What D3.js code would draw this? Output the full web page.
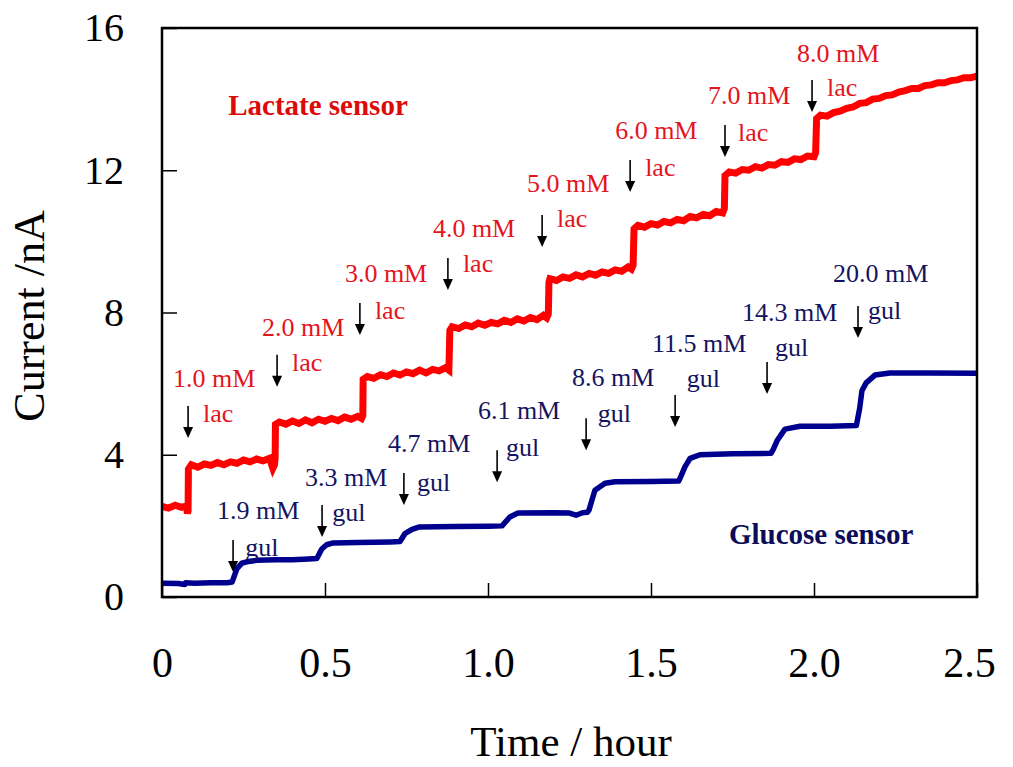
<!DOCTYPE html>
<html>
<head>
<meta charset="utf-8">
<script src="https://cdn.jsdelivr.net/npm/d3@7"></script>
<style>
  html, body { margin: 0; padding: 0; background: #fff; }
  svg { display: block; font-family: "Liberation Serif", "Times New Roman", serif; }
</style>
</head>
<body>
<svg id="chart" width="1013" height="767"></svg>
<script>
// Amperometric response of the lactate and glucose sensors (time in hours, current in nA)
const lactateTrace = [
  [0,2.55],[0.02,2.5],[0.04,2.58],[0.06,2.52],[0.075,2.56],[0.078,2.35],[0.080,2.42],
  [0.081,3.6],[0.09,3.72],[0.11,3.65],[0.13,3.74],[0.15,3.7],[0.17,3.78],[0.19,3.72],[0.21,3.8],
  [0.23,3.76],[0.25,3.85],[0.27,3.8],[0.29,3.88],[0.31,3.83],[0.33,3.9],[0.34,3.62],[0.345,3.72],[0.347,3.9],
  [0.348,4.85],[0.36,4.92],[0.38,4.86],[0.40,4.95],[0.42,4.88],[0.44,4.98],[0.46,4.9],[0.48,5.0],
  [0.50,4.94],[0.52,5.02],[0.54,4.96],[0.56,5.06],[0.58,5.0],[0.60,5.08],[0.612,5.02],[0.616,5.1],
  [0.617,6.12],[0.63,6.2],[0.65,6.15],[0.67,6.25],[0.69,6.2],[0.71,6.3],[0.73,6.24],[0.75,6.33],
  [0.77,6.28],[0.79,6.38],[0.81,6.3],[0.83,6.4],[0.85,6.36],[0.87,6.45],[0.88,6.38],
  [0.883,7.5],[0.89,7.6],[0.91,7.55],[0.93,7.65],[0.95,7.6],[0.97,7.7],[0.99,7.64],[1.01,7.72],
  [1.03,7.68],[1.05,7.78],[1.07,7.72],[1.09,7.82],[1.11,7.76],[1.13,7.86],[1.15,7.8],[1.17,7.92],[1.18,7.85],[1.185,7.95],
  [1.187,8.85],[1.19,8.95],[1.21,8.9],[1.23,9.0],[1.25,8.96],[1.27,9.06],[1.29,9.0],[1.31,9.1],
  [1.33,9.05],[1.35,9.14],[1.37,9.1],[1.39,9.2],[1.41,9.16],[1.43,9.28],[1.44,9.22],[1.445,9.32],
  [1.448,10.35],[1.46,10.45],[1.48,10.4],[1.50,10.5],[1.52,10.46],[1.54,10.56],[1.56,10.52],[1.58,10.62],
  [1.60,10.58],[1.62,10.7],[1.64,10.66],[1.66,10.76],[1.68,10.72],[1.70,10.84],[1.72,10.8],[1.725,10.92],
  [1.727,11.85],[1.74,11.95],[1.76,11.92],[1.78,12.02],[1.80,12.0],[1.82,12.1],[1.84,12.06],[1.86,12.16],
  [1.88,12.14],[1.90,12.24],[1.92,12.22],[1.94,12.32],[1.96,12.3],[1.98,12.4],[2.0,12.38],[2.005,12.5],
  [2.008,13.45],[2.02,13.55],[2.04,13.52],[2.06,13.62],[2.08,13.66],[2.10,13.74],[2.12,13.78],[2.14,13.88],
  [2.16,13.9],[2.18,14.0],[2.20,14.02],[2.22,14.1],[2.24,14.12],[2.26,14.2],[2.28,14.24],[2.30,14.3],
  [2.32,14.3],[2.34,14.38],[2.36,14.4],[2.38,14.46],[2.40,14.46],[2.42,14.52],[2.44,14.54],[2.46,14.6],
  [2.48,14.6],[2.50,14.65]
];

const glucoseTrace = [
  [0,0.39],[0.05,0.38],[0.07,0.35],[0.072,0.4],[0.1,0.39],[0.15,0.4],[0.2,0.4],[0.215,0.42],
  [0.23,0.8],[0.245,0.95],[0.26,0.99],[0.29,1.03],[0.35,1.05],[0.40,1.05],[0.45,1.07],
  [0.475,1.08],[0.49,1.35],[0.505,1.47],[0.525,1.52],[0.6,1.53],[0.7,1.55],
  [0.73,1.56],[0.745,1.78],[0.767,1.9],[0.79,1.97],[0.9,1.98],[1.0,1.99],
  [1.043,2.0],[1.067,2.25],[1.092,2.36],[1.2,2.37],[1.25,2.36],[1.27,2.3],[1.29,2.37],[1.305,2.38],
  [1.31,2.45],[1.319,2.73],[1.328,3.0],[1.359,3.2],[1.39,3.24],[1.5,3.25],[1.585,3.26],
  [1.592,3.4],[1.604,3.66],[1.62,3.9],[1.65,4.0],[1.75,4.03],[1.868,4.04],
  [1.875,4.15],[1.887,4.4],[1.911,4.72],[1.957,4.8],[2.05,4.8],[2.13,4.82],
  [2.14,5.3],[2.147,5.8],[2.16,6.02],[2.187,6.24],[2.233,6.3],[2.35,6.3],[2.5,6.29]
];

// Lactate additions: arrow time, current at arrow tip, "lac" anchor, concentration anchor
const lactateConc = ["1.0 mM","2.0 mM","3.0 mM","4.0 mM","5.0 mM","6.0 mM","7.0 mM","8.0 mM"];
const lactateArrow = [[0.080,4.47],[0.353,5.91],[0.607,7.37],[0.877,8.63],[1.166,9.84],[1.436,11.39],[1.727,12.37],[1.994,13.64]];
const lactateTag = [[0.126,5.17],[0.399,6.61],[0.653,8.07],[0.923,9.39],[1.212,10.66],[1.482,12.09],[1.767,13.08],[2.040,14.34]];
const lactateConcAt = [[0.034,6.16],[0.307,7.59],[0.561,9.11],[0.831,10.38],[1.120,11.64],[1.390,13.13],[1.675,14.12],[1.948,15.30]];

// Glucose additions
const glucoseConc = ["1.9 mM","3.3 mM","4.7 mM","6.1 mM","8.6 mM","11.5 mM","14.3 mM","20.0 mM"];
const glucoseArrow = [[0.218,0.70],[0.491,1.69],[0.742,2.59],[1.028,3.23],[1.301,4.13],[1.574,4.78],[1.856,5.71],[2.135,7.28]];
const glucoseTag = [[0.255,1.41],[0.522,2.39],[0.782,3.23],[1.055,4.22],[1.337,5.17],[1.610,6.16],[1.880,7.03],[2.166,8.07]];
const glucoseConcAt = [[0.169,2.45],[0.439,3.37],[0.693,4.33],[0.969,5.26],[1.258,6.19],[1.503,7.14],[1.779,8.01],[2.058,9.11]];

const xTicks = [0, 0.5, 1.0, 1.5, 2.0, 2.5];
const xTickLabels = ["0", "0.5", "1.0", "1.5", "2.0", "2.5"];
const yTicks = [0, 4, 8, 12, 16];

const margin = { left: 162, top: 28, right: 36, bottom: 170 };
const W = 1013, H = 767;
const svg = d3.select("#chart");

const x = d3.scaleLinear().domain([0, 2.5]).range([margin.left, W - margin.right]);
const y = d3.scaleLinear().domain([0, 16]).range([H - margin.bottom, margin.top]);

const RED_LINE = "#ff0000", RED_TEXT = "#e4141c";
const BLUE_LINE = "#00008f", BLUE_TEXT = "#141460";

// traces
const line = d3.line().x(d => x(d[0])).y(d => y(d[1]));
svg.append("path").datum(lactateTrace).attr("d", line)
  .attr("fill", "none").attr("stroke", RED_LINE).attr("stroke-width", 7)
  .attr("stroke-linejoin", "miter").attr("stroke-linecap", "butt");
svg.append("path").datum(glucoseTrace).attr("d", line)
  .attr("fill", "none").attr("stroke", BLUE_LINE).attr("stroke-width", 5.5)
  .attr("stroke-linejoin", "round");

// frame with inward ticks
svg.append("rect")
  .attr("x", x(0)).attr("y", y(16))
  .attr("width", x(2.5) - x(0)).attr("height", y(0) - y(16))
  .attr("fill", "none").attr("stroke", "#000").attr("stroke-width", 2.5);

const yAxis = d3.axisLeft(y).tickValues(yTicks).tickSize(-15).tickPadding(38).tickFormat(d3.format("d"));
const gy = svg.append("g").attr("transform", `translate(${x(0)},0)`).call(yAxis);
gy.select(".domain").remove();
gy.selectAll("line").attr("stroke", "#000").attr("stroke-width", 1.5);
gy.selectAll("text").attr("font-size", 40).attr("fill", "#000")
  .attr("font-family", "Liberation Serif, Times New Roman, serif");

const xAxis = d3.axisBottom(x).tickValues(xTicks).tickSize(-14).tickPadding(50)
  .tickFormat((d, i) => xTickLabels[i]);
const gx = svg.append("g").attr("transform", `translate(0,${y(0)})`).call(xAxis);
gx.select(".domain").remove();
gx.selectAll("line").attr("stroke", "#000").attr("stroke-width", 1.5);
gx.selectAll("text").attr("font-size", 42).attr("fill", "#000")
  .attr("font-family", "Liberation Serif, Times New Roman, serif");
gx.selectAll(".tick").filter(d => d === 2.5).select("text").attr("dx", -8);

// axis titles
svg.append("text").attr("x", 571).attr("y", 756)
  .attr("text-anchor", "middle").attr("font-size", 43).text("Time / hour");
svg.append("text").attr("transform", `translate(44,${316}) rotate(-90)`)
  .attr("text-anchor", "middle").attr("font-size", 44).text("Current /nA");

// sensor names
svg.append("text").attr("x", x(0.203)).attr("y", y(13.83)).attr("dy", "0.35em")
  .attr("font-size", 29).attr("font-weight", "bold").attr("fill", "#dd0a0a").text("Lactate sensor");
svg.append("text").attr("x", x(1.739)).attr("y", y(1.77)).attr("dy", "0.35em")
  .attr("font-size", 29).attr("font-weight", "bold").attr("fill", "#0c0c58").text("Glucose sensor");

// addition markers
function drawArrow(t, c) {
  const ax = x(t), tip = y(c);
  svg.append("line").attr("x1", ax).attr("x2", ax).attr("y1", tip - 32).attr("y2", tip - 8)
    .attr("stroke", "#000").attr("stroke-width", 1.6);
  svg.append("path")
    .attr("d", `M${ax - 5},${tip - 11}L${ax + 5},${tip - 11}L${ax},${tip}Z`)
    .attr("fill", "#000");
}
function drawLabel(pos, str, color) {
  svg.append("text").attr("x", x(pos[0])).attr("y", y(pos[1])).attr("dy", "0.35em")
    .attr("font-size", 26).attr("fill", color).text(str);
}

lactateArrow.forEach((a, i) => {
  drawArrow(a[0], a[1]);
  drawLabel(lactateTag[i], "lac", RED_TEXT);
  drawLabel(lactateConcAt[i], lactateConc[i], RED_TEXT);
});
glucoseArrow.forEach((a, i) => {
  drawArrow(a[0], a[1]);
  drawLabel(glucoseTag[i], "gul", BLUE_TEXT);
  drawLabel(glucoseConcAt[i], glucoseConc[i], BLUE_TEXT);
});
</script>
</body>
</html>
